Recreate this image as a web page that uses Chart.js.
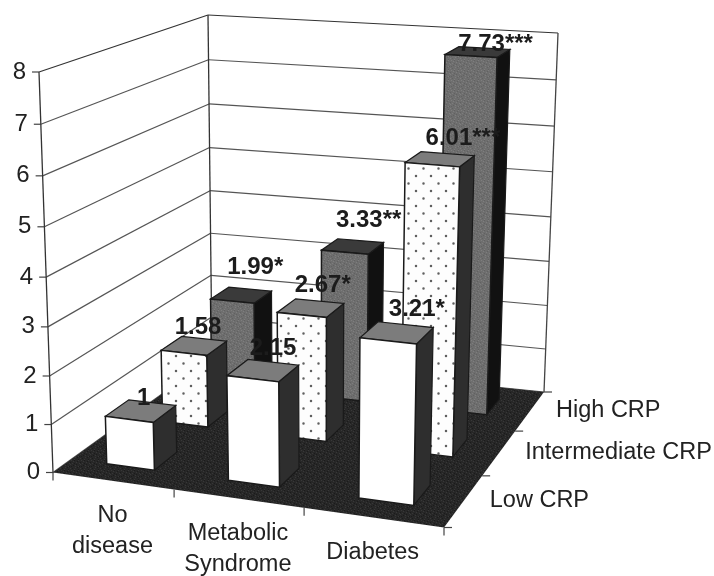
<!DOCTYPE html>
<html>
<head>
<meta charset="utf-8">
<title>CRP 3D bars</title>
<script src="https://cdn.jsdelivr.net/npm/chart.js@4"></script>
<style>
    html, body { margin: 0; padding: 0; background: #fff; }
    canvas { display: block; }
</style>
</head>
<body>
<canvas id="crpChart" width="714" height="576"></canvas>
<script>
// chart data
var categories = [['No', 'disease'], ['Metabolic', 'Syndrome'], ['Diabetes']];
var depthLabels = ['Low CRP', 'Intermediate CRP', 'High CRP'];
var lowCrp = [1, 2.15, 3.21];
var intermediateCrp = [1.58, 2.67, 6.01];
var highCrp = [1.99, 3.33, 7.73];
var lowMarks = ['', '', '*'];
var intermediateMarks = ['', '*', '***'];
var highMarks = ['*', '**', '***'];
var yTicks = [0, 1, 2, 3, 4, 5, 6, 7, 8];

// corners of the box on the page: front-left, back-left, back-right, front-right
var floorCorners = [[53, 472.5], [212, 358], [544, 392], [444, 527.5]];
var roofCorners = [[39, 72], [208, 15], [558, 33], [454, 103]];

// where each value label sits relative to the top of its bar, [dx, dy] per dataset and category
var labelNudge = [
    [[3, -12], [10, -22], [20, -23]],
    [[4, -18], [12, -23], [23, -21]],
    [[14, -28], [16, -26], [18, -8]]
];

var FONT = '"Liberation Sans", Arial, sans-serif';

// unit square -> quad
function squareToQuad(q) {
    var x0 = q[0][0], y0 = q[0][1], x1 = q[3][0], y1 = q[3][1];
    var x2 = q[2][0], y2 = q[2][1], x3 = q[1][0], y3 = q[1][1];
    var dx1 = x1 - x2, dx2 = x3 - x2, sx = x0 - x1 + x2 - x3;
    var dy1 = y1 - y2, dy2 = y3 - y2, sy = y0 - y1 + y2 - y3;
    var den = dx1 * dy2 - dx2 * dy1;
    var g = (sx * dy2 - dx2 * sy) / den;
    var h = (dx1 * sy - sx * dy1) / den;
    return function (u, w) {
        var d = g * u + h * w + 1;
        return [((x1 - x0 + g * x1) * u + (x3 - x0 + h * x3) * w + x0) / d,
                ((y1 - y0 + g * y1) * u + (y3 - y0 + h * y3) * w + y0) / d];
    };
}
var floorMap = squareToQuad(floorCorners);
var roofMap = squareToQuad(roofCorners);

// u along categories, w into the page, t = 0..1 of the value axis
function project(u, w, t) {
    var a = floorMap(u, w), b = roofMap(u, w);
    var k = t / (t + (1 - t) * 1.05);
    return [a[0] + (b[0] - a[0]) * k, a[1] + (b[1] - a[1]) * k];
}

function poly(ctx, pts, fill, stroke, lw) {
    ctx.beginPath();
    pts.forEach(function (p, i) {
        if (i === 0) { ctx.moveTo(p[0], p[1]); } else { ctx.lineTo(p[0], p[1]); }
    });
    ctx.closePath();
    if (fill) { ctx.fillStyle = fill; ctx.fill(); }
    if (stroke) { ctx.strokeStyle = stroke; ctx.lineWidth = lw || 1; ctx.stroke(); }
}

function seg(ctx, a, b, color, lw) {
    ctx.beginPath();
    ctx.moveTo(a[0], a[1]);
    ctx.lineTo(b[0], b[1]);
    ctx.strokeStyle = color;
    ctx.lineWidth = lw;
    ctx.stroke();
}

function dotPattern(ctx) {
    var c = document.createElement('canvas');
    c.width = 15; c.height = 15;
    var p = c.getContext('2d');
    p.fillStyle = '#fdfdfd';
    p.fillRect(0, 0, 15, 15);
    p.fillStyle = '#5f5f5f';
    p.beginPath();
    p.arc(3.5, 3.5, 1.25, 0, Math.PI * 2);
    p.arc(11, 11, 1.25, 0, Math.PI * 2);
    p.fill();
    return ctx.createPattern(c, 'repeat');
}

// halftone grain of the scan, a fixed tile
function grainPattern(ctx, base, light, dark) {
    var rows = ['.#..-...#.', '...#...-..', '-.....#...', '..#.-....#', '#.....-...',
                '...-.#....', '.-......#-', '.....#.-..', '#.-.......', '....#...-.'];
    var c = document.createElement('canvas');
    c.width = 10; c.height = 10;
    var p = c.getContext('2d');
    p.fillStyle = base;
    p.fillRect(0, 0, 10, 10);
    rows.forEach(function (row, y) {
        row.split('').forEach(function (ch, x) {
            if (ch === '.') { return; }
            p.fillStyle = ch === '#' ? light : dark;
            p.fillRect(x, y, 1, 1);
        });
    });
    return ctx.createPattern(c, 'repeat');
}

var box3d = {
    id: 'box3d',
    // the bars are laid out by the library, then drawn here through the projection
    beforeDatasetsDraw: function (chart) {
        var ctx = chart.ctx, ys = chart.scales.y, xs = chart.scales.x;

        poly(ctx, [project(0, 0, 0), project(0, 1, 0), project(0, 1, 1), project(0, 0, 1)], '#fff');
        poly(ctx, [project(0, 1, 0), project(1, 1, 0), project(1, 1, 1), project(0, 1, 1)], '#fff');

        ys.ticks.forEach(function (tick) {
            var t = (tick.value - ys.min) / (ys.max - ys.min);
            var c = tick.value === ys.max ? '#333' : '#555';
            seg(ctx, project(0, 0, t), project(0, 1, t), c, 1.2);
            seg(ctx, project(0, 1, t), project(1, 1, t), c, 1.2);
            var left = project(0, 0, t);
            seg(ctx, [left[0] - 7, left[1]], left, '#444', 1.2);
            ctx.font = '24px ' + FONT;
            ctx.fillStyle = '#222';
            ctx.textAlign = 'right';
            ctx.textBaseline = 'middle';
            ctx.fillText(String(tick.value), left[0] - 13, left[1]);
        });
        seg(ctx, project(0, 0, 0), project(0, 0, 1), '#333', 1.3);
        seg(ctx, project(0, 1, 0), project(0, 1, 1), '#333', 1.3);
        seg(ctx, project(1, 1, 0), project(1, 1, 1), '#444', 1.3);

        poly(ctx, [project(0, 0, 0), project(0, 1, 0), project(1, 1, 0), project(1, 0, 0)],
            grainPattern(ctx, '#272727', '#383838', '#1b1b1b'));

        // category ticks and labels along the front edge
        var n = categories.length;
        for (var i = 0; i <= n; i++) {
            var p = project(i / n, 0, 0);
            seg(ctx, p, [p[0], p[1] + 8], '#444', 1.2);
        }
        ctx.font = '23.5px ' + FONT;
        ctx.fillStyle = '#222';
        ctx.textAlign = 'center';
        ctx.textBaseline = 'middle';
        categories.forEach(function (lines, i) {
            var c = project((i + 0.5) / n, 0, 0);
            lines.forEach(function (line, j) {
                ctx.fillText(line, c[0], c[1] + 35 + j * 31);
            });
        });

        // depth ticks and labels along the right edge
        var m = chart.data.datasets.length;
        for (var d = 0; d <= m; d++) {
            var e = project(1, d / m, 0);
            seg(ctx, e, [e[0] + 8, e[1]], '#444', 1.2);
        }
        ctx.textAlign = 'left';
        chart.data.datasets.forEach(function (ds, d) {
            var e = project(1, (d + 0.5) / m, 0);
            ctx.fillText(ds.label, e[0] + 26, e[1]);
        });

        // back to front
        var dots = dotPattern(ctx);
        var grain = grainPattern(ctx, '#6e6e6e', '#7e7e7e', '#616161');
        for (var k = m - 1; k >= 0; k--) {
            var ds = chart.data.datasets[k];
            var w0 = (k + 0.3) / m, w1 = (k + 0.7) / m;
            chart.getDatasetMeta(k).data.forEach(function (bar) {
                var u0 = (bar.x - bar.width / 2 - xs.left) / xs.width;
                var u1 = (bar.x + bar.width / 2 - xs.left) / xs.width;
                var t = (bar.base - bar.y) / (ys.bottom - ys.top);
                var front = ds.face === 'dots' ? dots : ds.face === 'grain' ? grain : ds.backgroundColor;
                poly(ctx, [project(u1, w0, 0), project(u1, w1, 0), project(u1, w1, t), project(u1, w0, t)], ds.sideColor, '#1a1a1a', 1.2);
                poly(ctx, [project(u0, w0, t), project(u1, w0, t), project(u1, w1, t), project(u0, w1, t)], ds.topColor, '#1a1a1a', 1.2);
                poly(ctx, [project(u0, w0, 0), project(u1, w0, 0), project(u1, w0, t), project(u0, w0, t)], front, '#1a1a1a', 1.5);
            });
        }

        // value labels go on top of everything
        ctx.font = 'bold 24px ' + FONT;
        ctx.fillStyle = '#1c1c1c';
        ctx.textAlign = 'center';
        chart.data.datasets.forEach(function (ds, k) {
            chart.getDatasetMeta(k).data.forEach(function (bar, i) {
                var t = (bar.base - bar.y) / (ys.bottom - ys.top);
                var u = (bar.x - xs.left) / xs.width;
                var top = project(u, (k + 0.5) / m, t);
                var nudge = labelNudge[k][i];
                ctx.fillText(ds.data[i] + ds.marks[i], top[0] + nudge[0], top[1] + nudge[1]);
            });
        });
        return false;
    }
};

new Chart(document.getElementById('crpChart').getContext('2d'), {
    type: 'bar',
    data: {
        labels: categories,
        datasets: [
            {label: depthLabels[0], data: lowCrp, marks: lowMarks, backgroundColor: '#ffffff', topColor: '#7c7c7c', sideColor: '#2e2e2e', grouped: false, barPercentage: 0.4, categoryPercentage: 1},
            {label: depthLabels[1], data: intermediateCrp, marks: intermediateMarks, face: 'dots', backgroundColor: '#ffffff', topColor: '#7c7c7c', sideColor: '#2e2e2e', grouped: false, barPercentage: 0.4, categoryPercentage: 1},
            {label: depthLabels[2], data: highCrp, marks: highMarks, face: 'grain', backgroundColor: '#727272', topColor: '#3a3a3a', sideColor: '#111111', grouped: false, barPercentage: 0.4, categoryPercentage: 1}
        ]
    },
    options: {
        responsive: false,
        animation: false,
        events: [],
        plugins: {
            legend: {display: false},
            title: {display: false},
            tooltip: {enabled: false}
        },
        scales: {
            x: {display: false},
            y: {
                display: false,
                min: yTicks[0],
                max: yTicks[yTicks.length - 1],
                ticks: {stepSize: 1}
            }
        }
    },
    plugins: [box3d]
});
</script>
</body>
</html>
